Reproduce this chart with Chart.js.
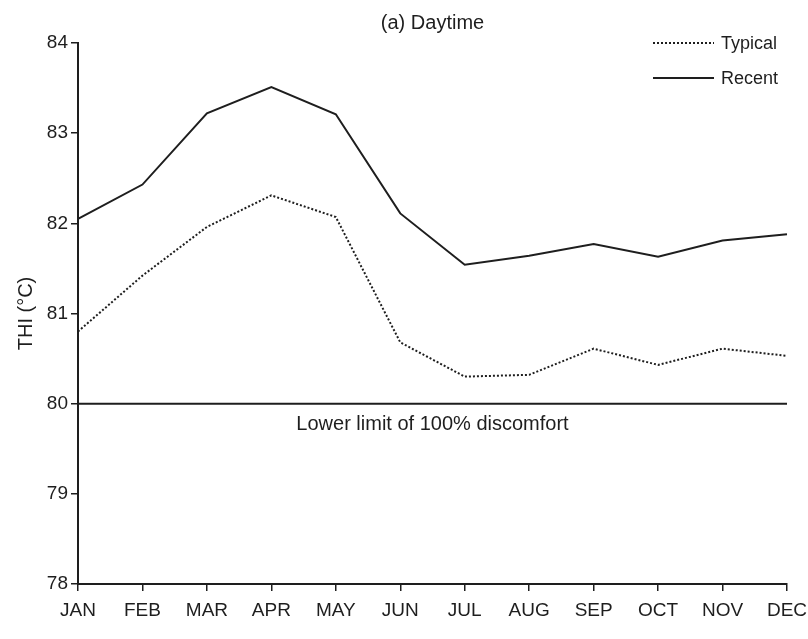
<!DOCTYPE html>
<html>
<head>
<meta charset="utf-8">
<title>Daytime THI</title>
<script src="https://cdn.jsdelivr.net/npm/chart.js@4.4.1/dist/chart.umd.min.js"></script>
<style>
  html, body { margin: 0; padding: 0; background: #fff; }
  #wrap { width: 808px; height: 639px; position: relative; }
</style>
</head>
<body>
<div id="wrap"><canvas id="thiChart"></canvas></div>
<script>
// datos
const months = ['JAN', 'FEB', 'MAR', 'APR', 'MAY', 'JUN', 'JUL', 'AUG', 'SEP', 'OCT', 'NOV', 'DEC'];
const typical = [80.80, 81.42, 81.96, 82.31, 82.07, 80.68, 80.30, 80.32, 80.61, 80.43, 80.61, 80.53];
const recent = [82.05, 82.43, 83.22, 83.51, 83.21, 82.11, 81.54, 81.64, 81.77, 81.63, 81.81, 81.88];
const yTicks = [78, 79, 80, 81, 82, 83, 84];
const discomfortLimit = 80;
const limitLabel = 'Lower limit of 100% discomfort';

const ink = '#1e1e1e';
const fontFam = '"Liberation Sans", Arial, Helvetica, sans-serif';

// linea de 80 y leyenda dibujadas a mano
const extras = {
    id: 'extras',
    afterDatasetsDraw(chart) {
        const { ctx, chartArea, scales } = chart;
        const yPix = scales.y.getPixelForValue(discomfortLimit);
        ctx.save();
        ctx.strokeStyle = ink;
        ctx.lineWidth = 2;
        ctx.beginPath();
        ctx.moveTo(chartArea.left, yPix);
        ctx.lineTo(chartArea.right, yPix);
        ctx.stroke();

        ctx.fillStyle = ink;
        ctx.font = '20px ' + fontFam;
        ctx.textAlign = 'center';
        ctx.textBaseline = 'middle';
        ctx.fillText(limitLabel, (chartArea.left + chartArea.right) / 2, yPix + 21);

        // leyenda
        const items = [
            { label: 'Typical', dash: [2, 2], y: 43 },
            { label: 'Recent', dash: [], y: 78 }
        ];
        ctx.font = '18px ' + fontFam;
        ctx.textAlign = 'left';
        items.forEach(it => {
            ctx.setLineDash(it.dash);
            ctx.beginPath();
            ctx.moveTo(653, it.y);
            ctx.lineTo(714, it.y);
            ctx.stroke();
            ctx.setLineDash([]);
            ctx.fillText(it.label, 721, it.y + 1);
        });
        ctx.restore();
    }
};

const ctx = document.getElementById('thiChart').getContext('2d');
const thiChart = new Chart(ctx, {
    type: 'line',
    data: {
        labels: months,
        datasets: [{
            label: 'Typical',
            data: typical,
            borderColor: ink,
            borderWidth: 2,
            borderDash: [2, 2],
            pointRadius: 0,
            tension: 0,
            fill: false
        }, {
            label: 'Recent',
            data: recent,
            borderColor: ink,
            borderWidth: 2,
            pointRadius: 0,
            tension: 0,
            fill: false
        }]
    },
    options: {
        responsive: true,
        maintainAspectRatio: false,
        animation: false,
        layout: {
            padding: { top: 0, right: 21, bottom: 0, left: 0 }
        },
        plugins: {
            legend: { display: false },
            tooltip: { enabled: false },
            title: {
                display: true,
                text: '(a) Daytime',
                fullSize: false,
                color: ink,
                font: { family: fontFam, size: 20, weight: 'normal' },
                padding: { top: 11, bottom: 8 }
            }
        },
        scales: {
            x: {
                type: 'category',
                offset: false,
                grid: {
                    display: true,
                    drawOnChartArea: false,
                    drawTicks: true,
                    tickLength: 7,
                    color: ink,
                    lineWidth: 1.5
                },
                border: { display: true, color: ink, width: 2 },
                ticks: {
                    color: ink,
                    padding: 8,
                    maxRotation: 0,
                    autoSkip: false,
                    font: { family: fontFam, size: 19 }
                },
                afterFit(scale) {
                    scale.height = 55;
                    scale.paddingLeft = 0;
                    scale.paddingRight = 0;
                }
            },
            y: {
                min: yTicks[0],
                max: yTicks[yTicks.length - 1],
                afterBuildTicks(scale) {
                    scale.ticks = yTicks.map(v => ({ value: v }));
                },
                grid: {
                    display: true,
                    drawOnChartArea: false,
                    drawTicks: true,
                    tickLength: 7,
                    color: ink,
                    lineWidth: 1.5
                },
                border: { display: true, color: ink, width: 2 },
                ticks: {
                    color: ink,
                    padding: 3,
                    font: { family: fontFam, size: 19 }
                },
                title: {
                    display: true,
                    text: 'THI (°C)',
                    color: ink,
                    font: { family: fontFam, size: 20 },
                    padding: { top: 14, bottom: 0 }
                },
                afterFit(scale) { scale.width = 78; }
            }
        }
    },
    plugins: [extras]
});
</script>
</body>
</html>
